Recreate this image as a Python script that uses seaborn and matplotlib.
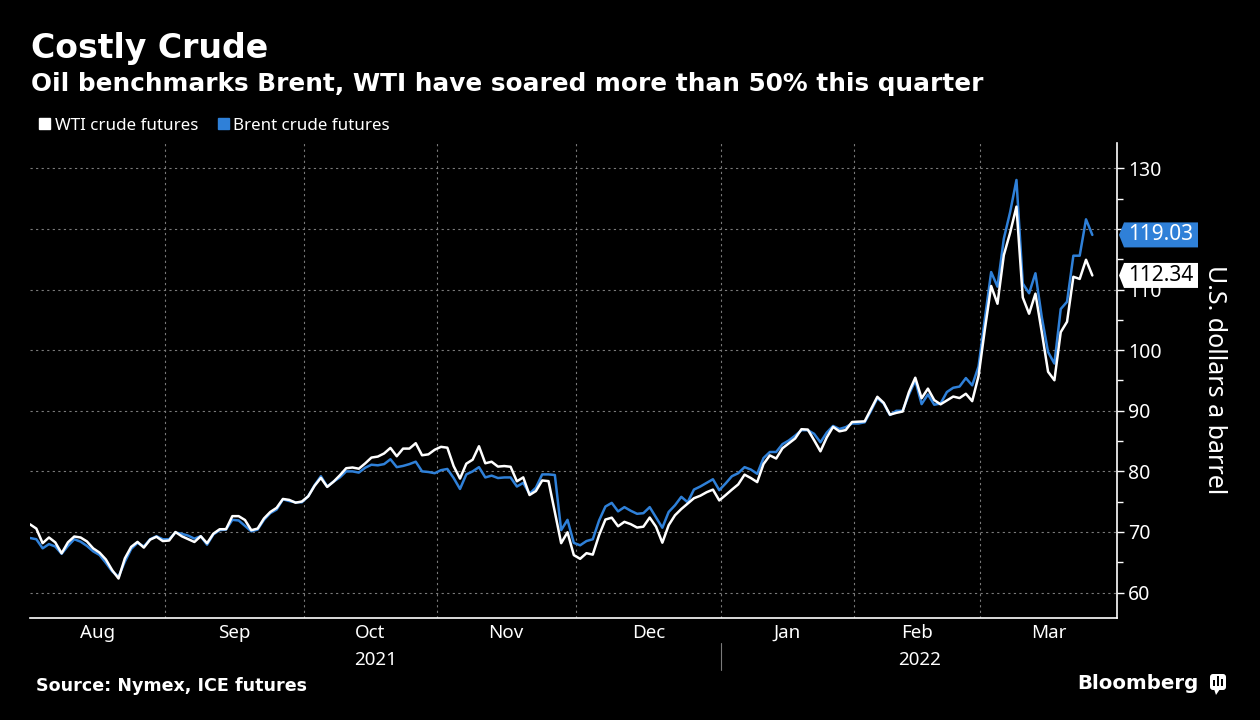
import numpy as np
import pandas as pd
import seaborn as sns
import matplotlib.pyplot as plt
from matplotlib.patches import Polygon, Rectangle, FancyBboxPatch
from matplotlib.transforms import IdentityTransform

# one slot per weekday, Aug 2 2021 .. Mar 24 2022 (None = no WTI settle that day)
dates = pd.bdate_range('2021-08-02', '2022-03-24')

wti = [71.26, 70.56, 68.15, 69.09, 68.28, 66.48, 68.29, 69.25, 69.09, 68.44,
       67.29, 66.59, 65.46, 63.69, 62.32, 65.64, 67.54, 68.36, 67.42, 68.74,
       69.21, 68.50, 68.59, 69.99, 69.29, None, 68.35, 69.30, 68.14, 69.72,
       70.45, 70.46, 72.61, 72.61, 71.97, 70.29, 70.56, 72.23, 73.30, 73.98,
       75.45, 75.29, 74.83, 75.03, 75.88, 77.62, 78.93, 77.43, 78.30, 79.35,
       80.52, 80.64, 80.44, 81.31, 82.28, 82.44, 82.96, 83.87, 82.50, 83.76,
       83.76, 84.65, 82.66, 82.81, 83.57, 84.05, 83.91, 80.86, 78.81, 81.27,
       81.93, 84.15, 81.34, 81.59, 80.79, 80.88, 80.76, 78.36, 79.01, 76.10,
       76.75, 78.50, 78.39, None, 68.15, 69.95, 66.18, 65.57, 66.50, 66.26,
       69.49, 72.05, 72.36, 70.94, 71.67, 71.29, 70.73, 70.87, 72.38, 70.86,
       68.23, 71.12, 72.76, 73.79, None, 75.57, 75.98, 76.56, 76.99, 75.21,
       76.08, 76.99, 77.85, 79.46, 78.90, 78.23, 81.22, 82.64, 82.12, 83.82,
       None, 85.43, 86.96, 86.90, 85.14, 83.31, 85.60, 87.35, 86.61, 86.82,
       88.15, 88.20, 88.26, 90.27, 92.31, 91.32, 89.36, 89.66, 89.88, 93.10,
       95.46, 92.07, 93.66, 91.76, 91.07, None, 92.35, 92.10, 92.81, 91.59,
       95.72, 103.41, 110.60, 107.67, 115.68, 119.40, 123.70, 108.70, 106.02, 109.33,
       103.01, 96.44, 95.04, 102.98, 104.70, 112.12, 111.76, 114.93, 112.34]

brent = [69.0, 68.8, 67.3, 68.0, 67.6, 66.4, 67.7, 68.8, 68.4, 67.7,
         66.8, 66.2, 64.9, 63.5, 62.6, 65.1, 67.2, 68.2, 67.6, 68.8,
         69.3, 68.8, 68.8, 69.9, 69.7, 69.4, 68.9, 69.3, 67.9, 69.6,
         70.3, 70.4, 72.0, 71.9, 71.0, 70.1, 70.4, 72.0, 73.1, 73.7,
         75.4, 75.1, 74.9, 74.9, 75.9, 77.7, 79.2, 77.5, 78.3, 79.0,
         80.0, 80.0, 79.8, 80.6, 81.1, 81.0, 81.2, 82.0, 80.7, 80.9,
         81.2, 81.6, 80.0, 79.9, 79.7, 80.2, 80.4, 78.9, 77.1, 79.5,
         80.0, 80.7, 79.0, 79.3, 78.9, 79.0, 79.0, 77.5, 78.1, 76.3,
         77.3, 79.5, 79.5, 79.4, 70.3, 72.0, 68.2, 67.8, 68.5, 68.8,
         71.9, 74.2, 74.8, 73.4, 74.1, 73.5, 73.0, 73.1, 74.1, 72.4,
         70.7, 73.3, 74.4, 75.8, 74.9, 77.0, 77.5, 78.1, 78.7, 76.9,
         78.0, 79.2, 79.7, 80.7, 80.3, 79.6, 82.2, 83.2, 83.2, 84.5,
         85.1, 85.9, 86.8, 86.8, 86.2, 84.8, 86.4, 87.5, 87.0, 87.3,
         87.9, 87.9, 88.1, 90.0, 92.1, 91.2, 89.3, 90.0, 90.0, 92.7,
         95.0, 91.1, 92.7, 91.0, 91.2, 93.1, 93.8, 94.0, 95.4, 94.2,
         97.3, 105.2, 112.9, 110.5, 118.4, 122.8, 128.1, 111.0, 109.4, 112.7,
         105.5, 99.7, 97.8, 106.8, 108.0, 115.6, 115.6, 121.6, 119.03]

month_names = ['Aug', 'Sep', 'Oct', 'Nov', 'Dec', 'Jan', 'Feb', 'Mar']
year_names = ['2021', '2022']
y_ticks = [60, 70, 80, 90, 100, 110, 120, 130]

BLUE = '#2f80d8'
GRID = '#7a7a7a'
BOLD = ['DejaVu Sans']
W, H = 1260, 720

df = pd.DataFrame({'pos': np.arange(len(dates)), 'WTI': wti, 'Brent': brent})
long_df = df.melt(id_vars='pos', var_name='series', value_name='price').dropna()

sns.set_theme(style='dark', rc={'axes.facecolor': 'black', 'figure.facecolor': 'black'})
plt.rcParams['font.family'] = ['Noto Sans', 'DejaVu Sans']

fig = plt.figure(figsize=(12.6, 7.2), dpi=100, facecolor='black')
ax = fig.add_axes([30 / W, 1 - 618 / H, 1087 / W, 475 / H])
ax.set_facecolor('black')

sns.lineplot(data=long_df, x='pos', y='price', hue='series', hue_order=['Brent', 'WTI'],
             palette={'Brent': BLUE, 'WTI': 'white'}, estimator=None, linewidth=1.8,
             legend=False, ax=ax, zorder=3)

ax.set_xlim(0, 171.9)
ax.set_ylim(55.8, 134.2)
ax.set_xlabel('')
ax.set_ylabel('')
ax.grid(False)

# month boundaries from the weekday calendar
starts = np.flatnonzero(dates.month != np.roll(dates.month, 1))
bounds = starts[1:] - 0.7
edges = np.concatenate([[0], bounds, [171.9]])
mids = (edges[:-1] + edges[1:]) / 2
year_cut = bounds[list(dates[starts[1:]].month).index(1)]

for v in y_ticks:
    ax.axhline(v, color=GRID, lw=0.8, ls=(0, (2, 3)), zorder=1)
for b in bounds:
    ax.axvline(b, color=GRID, lw=0.8, ls=(0, (2, 3)), zorder=1)

ax.set_xticks(bounds)
ax.set_xticklabels([])
ax.tick_params(axis='x', length=5, width=0.8, color=GRID)

ax.yaxis.tick_right()
ax.set_yticks(y_ticks)
ax.set_yticks([v + 5 for v in y_ticks[:-1]], minor=True)
ax.tick_params(axis='y', which='both', colors='white', labelsize=14, length=5, width=1, pad=3)
ax.tick_params(axis='y', which='minor', length=4)

for s in ['left', 'top']:
    ax.spines[s].set_visible(False)
for s in ['right', 'bottom']:
    ax.spines[s].set_color('white')
    ax.spines[s].set_linewidth(1.2)

xt = ax.get_xaxis_transform()
for m, name in zip(mids, month_names):
    ax.text(m, -0.042, name, transform=xt, ha='center', va='baseline', color='white', fontsize=13.5)
ax.text(year_cut / 2, -0.099, year_names[0], transform=xt, ha='center', va='baseline',
        color='white', fontsize=13.5)
ax.text((year_cut + 171.9) / 2, -0.099, year_names[1], transform=xt, ha='center', va='baseline',
        color='white', fontsize=13.5)
ax.plot([year_cut, year_cut], [-0.053, -0.109], transform=xt, color=GRID, lw=0.8, clip_on=False)

fig.text(1214 / W, 1 - 380 / H, 'U.S. dollars a barrel', rotation=-90, ha='center', va='center',
         color='white', fontsize=18)

# last value tags on the right axis
for val, fc, tc in [(brent[-1], BLUE, 'white'), (wti[-1], 'white', 'black')]:
    yc = ax.transData.transform((0, val))[1]
    tag = Polygon([(1119, yc), (1124, yc + 12.5), (1198, yc + 12.5), (1198, yc - 12.5), (1124, yc - 12.5)],
                  closed=True, fc=fc, ec='none', transform=IdentityTransform(), zorder=5)
    fig.add_artist(tag)
    fig.text(1160.5 / W, yc / H, f'{val:.2f}', color=tc, fontsize=15, ha='center', va='center', zorder=6)

renderer = fig.canvas.get_renderer()


def fit(t, width):
    w = t.get_window_extent(renderer).width
    t.set_fontsize(t.get_fontsize() * width / w)


title = fig.text(31 / W, 1 - 58 / H, 'Costly Crude', color='white', fontsize=24,
                 fontweight='bold', family=BOLD, va='baseline')
fit(title, 238)
sub = fig.text(31 / W, 1 - 91 / H, 'Oil benchmarks Brent, WTI have soared more than 50% this quarter',
               color='white', fontsize=16, fontweight='bold', family=BOLD, va='baseline')
fit(sub, 953)

# legend squares + labels
fig.add_artist(Rectangle((39 / W, 1 - 129 / H), 11 / W, 11 / H, color='white', transform=fig.transFigure))
fig.add_artist(Rectangle((218 / W, 1 - 129 / H), 11 / W, 11 / H, color=BLUE, transform=fig.transFigure))
leg1 = fig.text(55 / W, 1 - 130 / H, 'WTI crude futures', color='white', fontsize=12, va='baseline')
fit(leg1, 143)
fig.text(233 / W, 1 - 130 / H, 'Brent crude futures', color='white', fontsize=leg1.get_fontsize(),
         va='baseline')

src = fig.text(36 / W, 1 - 691 / H, 'Source: Nymex, ICE futures', color='white', fontsize=12,
               fontweight='bold', family=BOLD, va='baseline')
fit(src, 270)
bb = fig.text(1077 / W, 1 - 689 / H, 'Bloomberg', color='white', fontsize=14, fontweight='bold',
              family=BOLD, va='baseline')
fit(bb, 121)

# small logo mark
fig.add_artist(FancyBboxPatch((1210, 30), 16, 16, boxstyle='round,pad=0,rounding_size=3',
                              fc='white', ec='none', transform=IdentityTransform()))
fig.add_artist(Polygon([(1214, 31), (1220, 31), (1216, 25)], closed=True, fc='white', ec='none',
                       transform=IdentityTransform()))
for bx, bh in [(1213, 6), (1217, 10), (1221, 7)]:
    fig.add_artist(Rectangle((bx, 34), 2.2, bh, fc='black', ec='none', transform=IdentityTransform()))

fig.savefig('out.png', dpi=100, facecolor='black')
